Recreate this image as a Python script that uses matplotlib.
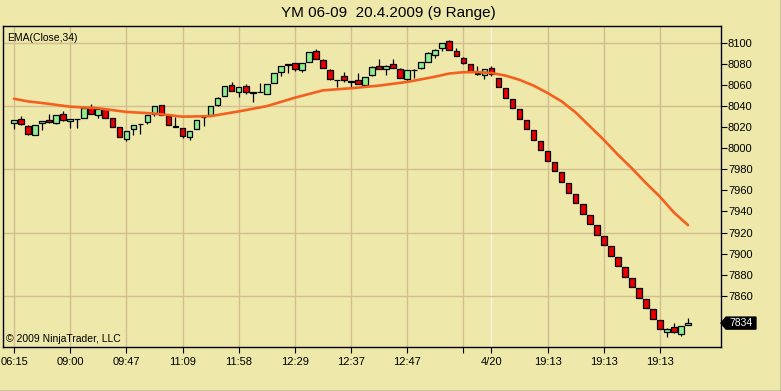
import matplotlib
matplotlib.use("Agg")
import matplotlib.pyplot as plt
from matplotlib.patches import Polygon
from matplotlib.lines import Line2D
import matplotlib.transforms as mtrans

# ---- data (YM 06-09, 9 range bars) ----
opens = [8024, 8028, 8021, 8013, 8024, 8027, 8024, 8033, 8026, 8027.5,
         8029, 8039, 8032, 8037, 8029, 8020, 8009, 8018, 8023, 8025,
         8033, 8041, 8031, 8021, 8019, 8011, 8018, 8029.5, 8032, 8041,
         8050, 8060, 8053, 8059, 8052.5, 8053.5, 8052, 8062, 8072, 8079.5,
         8081, 8074, 8082, 8092, 8084, 8074.5, 8064.5, 8069, 8063.5, 8065,
         8060, 8070, 8078, 8075, 8080, 8075, 8066, 8074, 8076, 8082,
         8089, 8095, 8102, 8092, 8086, 8080, 8071, 8069.5, 8076, 8067,
         8057, 8047, 8037, 8027, 8017, 8007, 7997, 7987, 7977, 7967,
         7957, 7947, 7937, 7927, 7917, 7907, 7897, 7887, 7877, 7867,
         7857, 7847, 7837, 7826, 7830, 7824, 7832]
closes = [8027, 8023, 8014, 8022, 8026, 8025, 8032, 8027, 8028, 8028,
          8038, 8033, 8037, 8029, 8020, 8011, 8016, 8022, 8023.5, 8032,
          8040, 8032, 8022, 8020.5, 8012, 8016, 8027, 8030, 8040, 8048,
          8059, 8054, 8058, 8053, 8053, 8053, 8061, 8071, 8078, 8080,
          8075, 8081, 8091, 8085, 8076, 8065.5, 8065, 8065, 8063, 8061,
          8068, 8077, 8075, 8078, 8076, 8067, 8074, 8074.5, 8082, 8090,
          8093, 8100, 8093, 8088, 8081, 8073, 8070.5, 8075, 8070.5, 8058,
          8048, 8038, 8028, 8018, 8008, 7998, 7988, 7978, 7968, 7958,
          7948, 7938, 7928, 7918, 7908, 7898, 7888, 7878, 7868, 7858,
          7848, 7838, 7828, 7828, 7826, 7831, 7834]
highs = [8027, 8031, 8022, 8022, 8026, 8033, 8032, 8035, 8028, 8028,
         8038, 8042, 8037, 8038, 8029, 8020, 8016, 8022, 8023.5, 8032,
         8040, 8041, 8031, 8030, 8019, 8016, 8027, 8030, 8040, 8049,
         8059, 8063, 8058, 8061, 8053, 8062, 8061, 8071, 8078, 8080,
         8081, 8081, 8091, 8094, 8085, 8075, 8065, 8072, 8064, 8071,
         8068, 8078, 8085, 8079, 8085, 8076, 8074, 8075, 8082, 8091,
         8094, 8100, 8103, 8095, 8087, 8080, 8078, 8075, 8078, 8067,
         8057, 8047, 8037, 8027, 8017, 8007, 7997, 7987, 7977, 7967,
         7957, 7947, 7937, 7927, 7917, 7907, 7897, 7887, 7877, 7867,
         7857, 7847, 7837, 7829, 7834, 7831, 7839]
lows = [8018, 8022, 8013, 8013, 8017, 8024, 8023, 8026, 8019, 8019,
        8029, 8033, 8029, 8029, 8020, 8011, 8007, 8013, 8014, 8023,
        8031, 8032, 8022, 8020, 8010, 8008, 8018, 8021, 8031, 8040,
        8050, 8054, 8049, 8052, 8044, 8053, 8052, 8062, 8069, 8071,
        8073, 8072, 8082, 8085, 8076, 8065, 8058, 8063, 8058, 8061,
        8059, 8069, 8075, 8070, 8076, 8067, 8064, 8067, 8075, 8082,
        8086, 8092, 8093, 8088, 8080, 8072, 8070, 8065.5, 8069, 8058,
        8048, 8038, 8028, 8018, 8008, 7998, 7988, 7978, 7968, 7958,
        7948, 7938, 7928, 7918, 7908, 7898, 7888, 7878, 7868, 7858,
        7848, 7838, 7828, 7821, 7825, 7822, 7832]

# EMA(Close,34) read at selected bars
ema_idx = [0, 2, 4, 8, 12, 16, 20, 24, 28, 32, 36, 40, 44, 48, 52, 56, 60,
           62, 64, 66, 68, 70, 72, 74, 76, 78, 80, 82, 84, 86, 88, 90, 92,
           94, 96]
ema_val = [8047, 8044.5, 8043, 8039.5, 8038, 8034.5, 8033, 8030, 8030.5,
           8035, 8040, 8048, 8055, 8057, 8059.5, 8063, 8068, 8071, 8072.2,
           8072.3, 8071.5, 8069, 8065, 8059.5, 8052.5, 8044.5, 8034, 8021,
           8008, 7994, 7981, 7967, 7954, 7939, 7927]

xtick_pos = [0, 8, 16, 24, 32, 40, 48, 56, 64, 68, 76, 84, 92]
xtick_lab = ["06:15", "09:00", "09:47", "11:09", "11:58", "12:29", "12:37",
             "12:47", "", "4/20", "19:13", "19:13", "19:13"]
ytick_pos = [7860, 7880, 7900, 7920, 7940, 7960, 7980, 8000, 8020, 8040,
             8060, 8080, 8100]
ygrid_pos = [7860, 7920, 7980, 8040, 8100]
last_price = 7834

BG = "#EEE8AA"
GRID = "#D2BE8E"
UP = "#90EE90"
DOWN = "#E80000"
EMA_C = "#F4601F"

plt.rcParams["font.family"] = ["Liberation Sans", "DejaVu Sans"]

fig = plt.figure(figsize=(7.81, 3.91), dpi=100, facecolor=BG)
ax = fig.add_axes([3 / 781, 44 / 391, 718 / 781, 321 / 391], facecolor=BG)

ax.set_xlim(-1.57, 100.7)
ax.set_ylim(7811.3, 8116.1)

# grid
for xp in xtick_pos:
    if xp == 68:
        ax.axvline(xp, color="#F8F4DC", lw=1.0, zorder=0)
    else:
        ax.axvline(xp, color=GRID, lw=1.0, zorder=0)
for yp in ygrid_pos:
    ax.axhline(yp, color=GRID, lw=1.0, zorder=0)

# candles
xs = list(range(len(opens)))
ax.vlines(xs, lows, highs, color="black", lw=0.9, zorder=2)
for i in xs:
    o, c = opens[i], closes[i]
    col = UP if c >= o else DOWN
    bottom = min(o, c)
    h = max(abs(c - o), 0.4)
    ax.bar(i, h, bottom=bottom, width=0.8, color=col, edgecolor="black",
           linewidth=0.9, zorder=3)

# EMA
ax.plot(ema_idx, ema_val, color=EMA_C, lw=1.9, zorder=4,
        solid_capstyle="round", solid_joinstyle="round")

# axes styling
for s in ax.spines.values():
    s.set_color("black")
    s.set_linewidth(1.0)
ax.yaxis.tick_right()
ax.set_yticks(ytick_pos)
ax.set_yticklabels([str(v) for v in ytick_pos])
ax.set_xticks(xtick_pos)
ax.set_xticklabels(xtick_lab)
ax.tick_params(axis="both", labelsize=8, length=4, width=0.8, color="black",
               direction="out")
ax.tick_params(axis="y", pad=1)
ax.tick_params(axis="x", pad=3)

ax.text(0.006, 0.962, "EMA(Close,34)", transform=ax.transAxes, fontsize=7.5,
        ha="left", va="center")
ax.text(0.004, 0.008, "\u00a9 2009 NinjaTrader, LLC", transform=ax.transAxes,
        fontsize=7.5, ha="left", va="bottom")

# last price tag
tr = mtrans.blended_transform_factory(ax.transAxes, ax.transData)
tag = Polygon([(1.0, last_price), (1.007, last_price + 5.7),
               (1.0487, last_price + 5.7), (1.0487, last_price - 5.7),
               (1.007, last_price - 5.7)],
              closed=True, transform=tr, facecolor="black", edgecolor="black",
              clip_on=False, zorder=5)
ax.add_patch(tag)
ax.text(1.028, last_price, str(last_price), transform=tr, color="white",
        fontsize=7.5, ha="center", va="center", clip_on=False, zorder=6)

fig.text(388 / 781, 1 - 13 / 391, "YM 06-09  20.4.2009 (9 Range)",
         ha="center", va="center", fontsize=11)

# panel border (bottom/right)
fig.add_artist(Line2D([0, 1], [0.5 / 391, 0.5 / 391], transform=fig.transFigure,
                      color="#404040", lw=1))
fig.add_artist(Line2D([1 - 0.5 / 781, 1 - 0.5 / 781], [0, 1],
                      transform=fig.transFigure, color="#404040", lw=1))

fig.savefig("out.png", dpi=100, facecolor=BG)
